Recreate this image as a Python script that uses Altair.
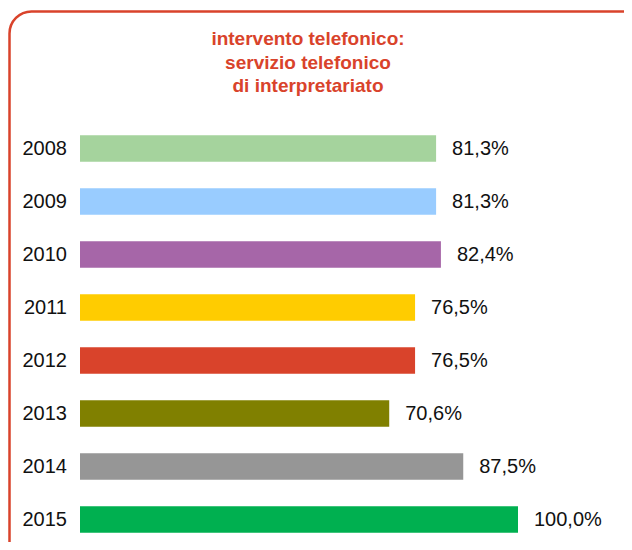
import altair as alt
import pandas as pd

years = ["2008", "2009", "2010", "2011", "2012", "2013", "2014", "2015"]
values = [81.3, 81.3, 82.4, 76.5, 76.5, 70.6, 87.5, 100.0]
colors = ["#a5d39d", "#99ccff", "#a666a8", "#ffcc00", "#d9432b", "#808000", "#969696", "#00b050"]
title_lines = ["intervento telefonico:", "servizio telefonico", "di interpretariato"]

RED = "#d9432b"
FONT = "Liberation Sans, Arial, sans-serif"

df = pd.DataFrame({
    "year": years,
    "value": values,
    "label": [f"{v:.1f}%".replace(".", ",") for v in values],
})

x_scale = alt.Scale(domain=[0, 100], range=[72, 510])
y_scale = alt.Scale(domain=years, range=[114, 538], paddingInner=0.5, paddingOuter=0.25)
color_scale = alt.Scale(domain=years, range=colors)

base = alt.Chart(df)

bars = base.mark_bar(cornerRadius=0).encode(
    x=alt.X("value:Q", scale=x_scale, axis=None),
    y=alt.Y("year:N", scale=y_scale, axis=None, sort=years),
    color=alt.Color("year:N", scale=color_scale, legend=None),
)

year_labels = base.mark_text(align="right", baseline="middle", font=FONT, fontSize=20, color="#111111").encode(
    x=alt.value(59),
    y=alt.Y("year:N", scale=y_scale, axis=None, sort=years),
    text="year:N",
)

value_labels = base.mark_text(align="left", baseline="middle", dx=16, font=FONT, fontSize=20, color="#111111").encode(
    x=alt.X("value:Q", scale=x_scale, axis=None),
    y=alt.Y("year:N", scale=y_scale, axis=None, sort=years),
    text="label:N",
)

title_df = pd.DataFrame({"t": ["\n".join(title_lines)]})
title = alt.Chart(title_df).mark_text(
    align="center", baseline="alphabetic", font=FONT, fontSize=19, fontWeight="bold",
    color=RED, lineBreak="\n", lineHeight=23.5,
).encode(x=alt.value(300), y=alt.value(37), text="t:N")

border = alt.Chart(pd.DataFrame({"a": [0]})).mark_rect(
    fillOpacity=0, stroke=RED, strokeWidth=2.5, cornerRadius=22,
).encode(x=alt.value(1.5), x2=alt.value(660), y=alt.value(3.5), y2=alt.value(580))

chart = alt.layer(border, bars, year_labels, value_labels, title).properties(
    width=616, height=534,
    autosize=alt.AutoSizeParams(type="none"),
    padding=0,
    background="white",
).configure_view(strokeWidth=0)

chart.save("out.html", embed_options={"renderer": "svg", "actions": False})
